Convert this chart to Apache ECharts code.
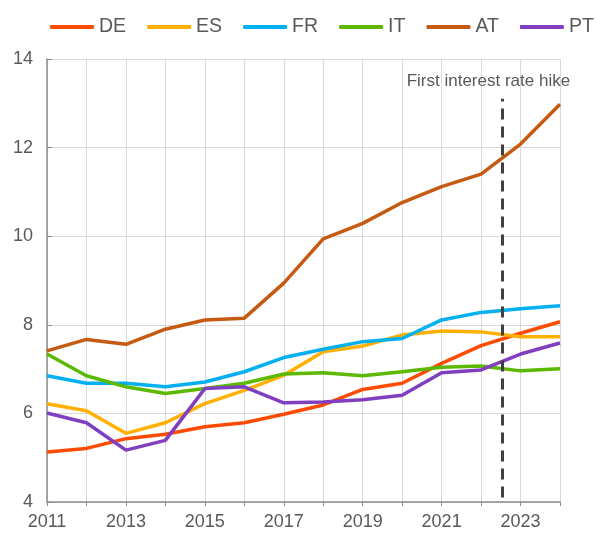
<!DOCTYPE html>
<html>
<head>
<meta charset="utf-8">
<script src="https://cdn.jsdelivr.net/npm/echarts@6/dist/echarts.min.js"></script>
<style>
html,body{margin:0;padding:0;background:#fff;}
#chart{width:595px;height:533px;}
</style>
</head>
<body>
<div id="chart"></div>
<script>
var years = [2011,2012,2013,2014,2015,2016,2017,2018,2019,2020,2021,2022,2023,2024];
var DE = [5.13,5.21,5.43,5.53,5.70,5.79,5.98,6.19,6.54,6.68,7.13,7.53,7.81,8.07];
var ES = [6.22,6.06,5.55,5.79,6.22,6.52,6.86,7.39,7.52,7.77,7.86,7.84,7.73,7.73];
var FR = [6.85,6.68,6.68,6.60,6.71,6.94,7.26,7.45,7.62,7.69,8.11,8.28,8.36,8.43];
var IT = [7.34,6.85,6.60,6.45,6.56,6.68,6.89,6.92,6.85,6.94,7.04,7.07,6.96,7.01];
var AT = [7.41,7.67,7.56,7.90,8.11,8.15,8.94,9.94,10.29,10.76,11.12,11.40,12.08,12.98];
var PT = [6.01,5.79,5.17,5.39,6.56,6.60,6.24,6.26,6.31,6.41,6.92,6.98,7.34,7.59];
var seriesNames = ['DE','ES','FR','IT','AT','PT'];
var colors = ['#FF4B00','#FFB000','#00B0F0','#5CB800','#C55A11','#7F3FBF'];
var hikeDate = 2022.54;
var hikeLabel = 'First interest rate hike';
var hikeRange = [4.1, 13.1];

var dataMap = {DE:DE, ES:ES, FR:FR, IT:IT, AT:AT, PT:PT};
var FONT = 'Liberation Sans, Arial, sans-serif';

var series = seriesNames.map(function(name, i){
  var s = {
    name: name,
    type: 'line',
    data: years.map(function(y, j){ return [y, dataMap[name][j]]; }),
    symbol: 'none',
    lineStyle: {width: 3.5, color: colors[i]},
    itemStyle: {color: colors[i]},
    z: 3
  };
  if (i === 0) {
    s.markLine = {
      silent: true,
      symbol: ['none','none'],
      lineStyle: {color: '#404040', width: 3, type: [11, 7]},
      label: {
        show: true,
        position: 'end',
        formatter: hikeLabel,
        color: '#595959',
        fontFamily: FONT,
        fontSize: 17,
        distance: 9,
        offset: [-14, 0]
      },
      data: [[{coord: [hikeDate, hikeRange[0]]}, {coord: [hikeDate, hikeRange[1]]}]]
    };
  }
  return s;
});

var chart = echarts.init(document.getElementById('chart'), null, {renderer: 'canvas'});
chart.setOption({
  animation: false,
  color: colors,
  legend: {
    top: 17,
    left: 50,
    padding: 0,
    itemWidth: 44,
    itemHeight: 4,
    itemGap: 21,
    icon: 'roundRect',
    textStyle: {color: '#595959', fontSize: 19.5, fontFamily: FONT},
    data: seriesNames
  },
  grid: {left: 47, right: 35, top: 59, bottom: 31, containLabel: false},
  xAxis: {
    type: 'value',
    min: 2011, max: 2024, interval: 1,
    axisLine: {show: true, lineStyle: {color: '#8c8c8c', width: 1.5}},
    axisTick: {show: true, length: 4, lineStyle: {color: '#8c8c8c'}},
    axisLabel: {
      color: '#595959', fontSize: 18, fontFamily: FONT, margin: 11,
      formatter: function(v){ return (v % 2 === 1) ? String(v) : ''; }
    },
    splitLine: {show: true, lineStyle: {color: '#d9d9d9', width: 1}}
  },
  yAxis: {
    type: 'value',
    min: 4, max: 14, interval: 2,
    axisLine: {show: true, lineStyle: {color: '#8c8c8c', width: 1.5}},
    axisTick: {show: true, inside: true, length: 5, lineStyle: {color: '#8c8c8c'}},
    axisLabel: {color: '#595959', fontSize: 18, fontFamily: FONT, margin: 14},
    splitLine: {show: true, lineStyle: {color: '#d9d9d9', width: 1}}
  },
  series: series
});
</script>
</body>
</html>
